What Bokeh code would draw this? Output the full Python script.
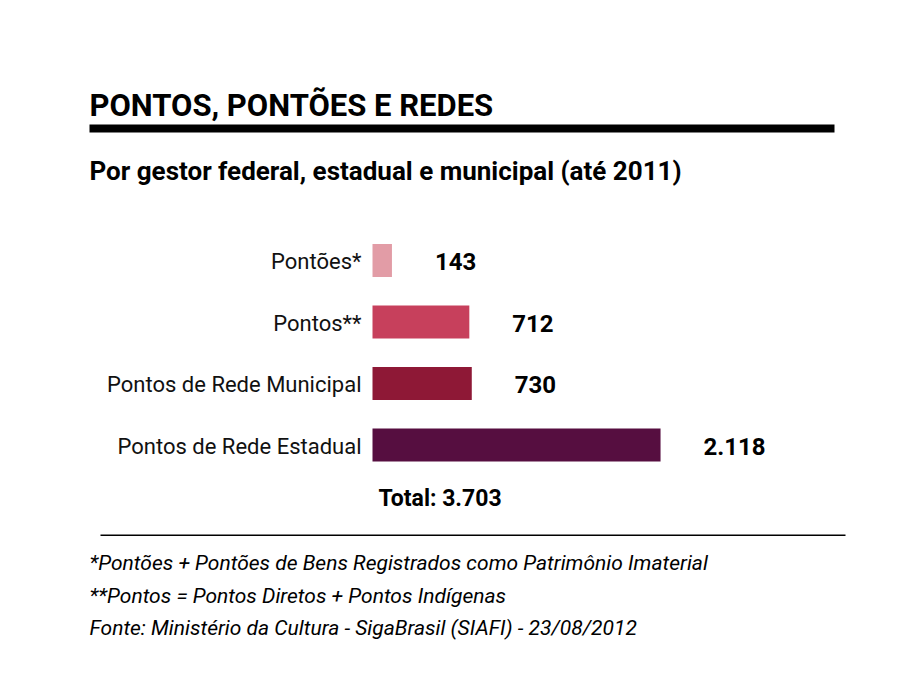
from bokeh.plotting import figure
from bokeh.models import Range1d, Label, BoxAnnotation, ColumnDataSource
from bokeh.embed import file_html
from bokeh.resources import INLINE
from bokeh.core.properties import value

# ---- data ----
categories = ["Pontões*", "Pontos**", "Pontos de Rede Municipal", "Pontos de Rede Estadual"]
values = [143, 712, 730, 2118]
colors = ["#E29CA6", "#C7405C", "#8E1836", "#560E40"]
title_text = "PONTOS, PONTÕES E REDES"
subtitle_text = "Por gestor federal, estadual e municipal (até 2011)"
footnotes = [
    "*Pontões + Pontões de Bens Registrados como Patrimônio Imaterial",
    "**Pontos = Pontos Diretos + Pontos Indígenas",
    "Fonte: Ministério da Cultura - SigaBrasil (SIAFI) - 23/08/2012",
]

def fmt(v):
    return f"{v:,}".replace(",", ".")

FONT = "Roboto"

# ---- layout (canvas pixels) ----
W, H = 888, 673
px_per_unit = 0.136
bar_left_px = 372
row_px = 61.5
first_row_px = 260

x_start = -bar_left_px / px_per_unit
x_end = (W - bar_left_px) / px_per_unit
y_top = -first_row_px / row_px
y_bottom = (H - first_row_px) / row_px

def px_x(px):
    return x_start + px / px_per_unit

def px_y(py):
    return y_top + py / row_px

p = figure(width=W, height=H, output_backend="svg", toolbar_location=None,
           x_range=Range1d(x_start, x_end), y_range=Range1d(y_bottom, y_top),
           min_border=0, min_border_left=0, min_border_right=0,
           min_border_top=0, min_border_bottom=0)
p.axis.visible = False
p.grid.visible = False
p.outline_line_color = None
p.background_fill_color = "white"
p.border_fill_color = "white"

idx = list(range(len(categories)))
src = ColumnDataSource(dict(
    idx=idx, cat=categories, val=values, color=colors,
    lab=[fmt(v) for v in values],
))

p.hbar(y="idx", left=0, right="val", height=33 / row_px, color="color",
       line_color=None, source=src)

p.text(x=0, y="idx", text="cat", source=src, x_offset=-11, y_offset=1,
       text_align="right", text_baseline="middle",
       text_font=value(FONT), text_font_size="22px", text_color="#111111")

p.text(x="val", y="idx", text="lab", source=src, x_offset=43, y_offset=1,
       text_align="left", text_baseline="middle",
       text_font=value(FONT), text_font_size="24px", text_font_style="bold",
       text_color="#000000")

# Total
total = sum(values)
p.add_layout(Label(x=0, y=px_y(498), x_offset=6, text=f"Total: {fmt(total)}",
                   text_font=FONT, text_font_size="23px", text_font_style="bold",
                   text_baseline="alphabetic", text_color="#000000"))

# Title and subtitle
p.add_layout(Label(x=px_x(89), y=px_y(105), text=title_text,
                   text_font=FONT, text_font_size="31px", text_font_style="bold",
                   text_baseline="alphabetic", text_color="#000000"))
p.add_layout(BoxAnnotation(left=px_x(89), right=px_x(834), top=px_y(124), bottom=px_y(132),
                           fill_color="black", fill_alpha=1, line_alpha=0))
p.add_layout(Label(x=px_x(89), y=px_y(170), text=subtitle_text,
                   text_font=FONT, text_font_size="26px", text_font_style="bold",
                   text_baseline="alphabetic", text_color="#000000"))

# separator line
p.add_layout(BoxAnnotation(left=px_x(100), right=px_x(845), top=px_y(534), bottom=px_y(535.5),
                           fill_color="black", fill_alpha=1, line_alpha=0))

for t, by in zip(footnotes, [562, 595, 627]):
    p.add_layout(Label(x=px_x(89), y=px_y(by), text=t,
                       text_font=FONT, text_font_size="21px", text_font_style="italic",
                       text_baseline="alphabetic", text_color="#000000"))

open("out.html", "w").write(file_html(p, INLINE))
